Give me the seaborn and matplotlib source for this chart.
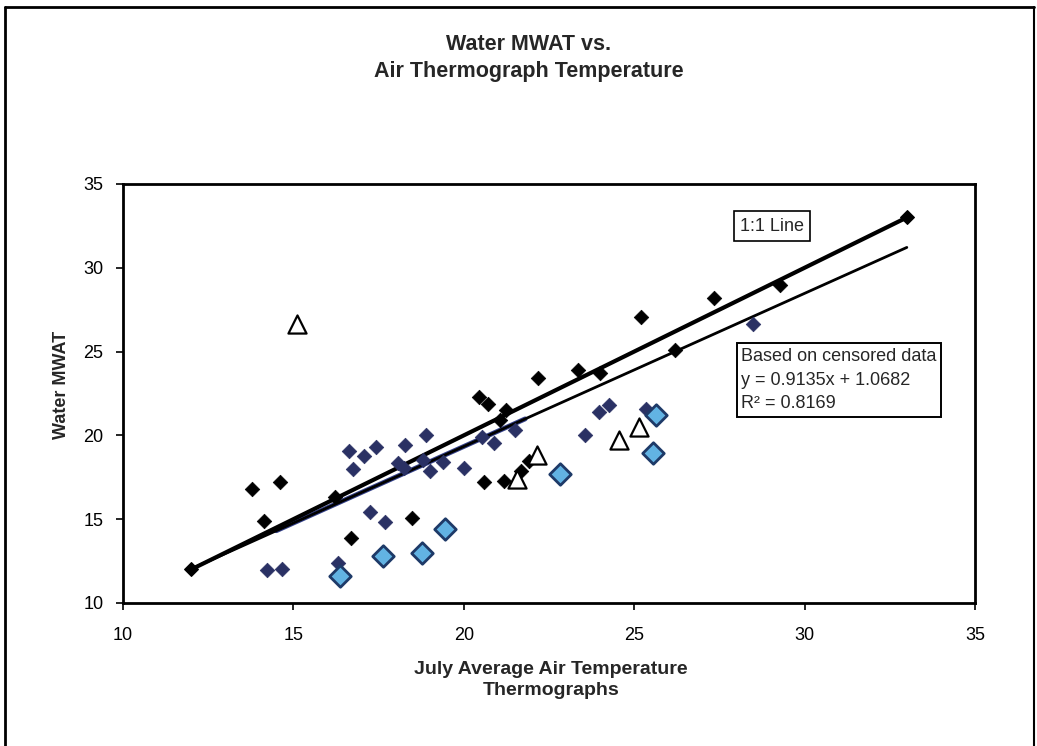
import matplotlib
matplotlib.use("Agg")
import matplotlib.pyplot as plt
import seaborn as sns
import numpy as np
import pandas as pd

# ---- data ----
black_x = [13.79, 14.61, 14.14, 16.22, 16.68, 18.49, 20.45, 20.70, 20.60, 21.05,
           21.25, 21.18, 22.18, 21.68, 21.92, 23.36, 24.01, 25.19, 26.21, 27.35, 29.29]
black_y = [16.82, 17.20, 14.92, 16.35, 13.87, 15.10, 22.30, 21.90, 17.22, 20.89,
           21.50, 17.30, 23.43, 17.88, 18.50, 23.89, 23.73, 27.06, 25.08, 28.21, 28.95]

navy_x = [14.22, 14.68, 16.64, 16.76, 17.08, 17.42, 17.25, 17.69, 16.32, 18.08,
          18.27, 18.25, 18.88, 18.81, 19.00, 19.38, 20.00, 20.53, 20.88, 21.51,
          23.57, 23.97, 24.27, 25.35, 28.50]
navy_y = [11.94, 12.04, 19.07, 17.98, 18.77, 19.32, 15.45, 14.86, 12.38, 18.37,
          19.42, 18.03, 20.04, 18.53, 17.86, 18.43, 18.08, 19.92, 19.52, 20.32,
          20.02, 21.40, 21.80, 21.60, 26.67]

light_x = [16.37, 17.64, 18.76, 19.45, 22.83, 25.56, 25.65]
light_y = [11.63, 12.78, 13.01, 14.40, 17.70, 18.93, 21.21]

tri_x = [15.11, 21.57, 22.15, 24.56, 25.14]
tri_y = [26.67, 17.38, 18.83, 19.72, 20.51]

one_x = [12, 33]
one_y = [12, 33]

slope, intercept = 0.9135, 1.0682
reg_x = [12, 33]

title_text = "Water MWAT vs.\nAir Thermograph Temperature"
xlabel_text = "July Average Air Temperature\nThermographs"
ylabel_text = "Water MWAT"
ticks = [10, 15, 20, 25, 30, 35]

# ---- style ----
sns.set_style("white")
plt.rcParams['font.family'] = ['Liberation Sans', 'DejaVu Sans']

fig = plt.figure(figsize=(10.37, 7.46), dpi=100)
ax = fig.add_axes([0.1186, 0.1917, 0.8216, 0.5617])

reg_df = pd.DataFrame({"x": reg_x, "y": [slope * v + intercept for v in reg_x]})
navy_seg = pd.DataFrame({"x": [14.5, 21.8], "y": [slope * v + intercept for v in [14.5, 21.8]]})
one_df = pd.DataFrame({"x": one_x, "y": one_y})

sns.lineplot(data=navy_seg, x="x", y="y", color="#34418a", lw=3.5, ax=ax, zorder=2)
sns.lineplot(data=reg_df, x="x", y="y", color="black", lw=2.0, ax=ax, zorder=3)
sns.lineplot(data=one_df, x="x", y="y", color="black", lw=3.0, ax=ax, zorder=3,
             marker="D", markersize=7, markeredgecolor="black")

sns.scatterplot(x=navy_x, y=navy_y, marker="D", s=55, color="#2a3164",
                edgecolor="#2a3164", linewidth=0.5, ax=ax, zorder=4)
sns.scatterplot(x=black_x, y=black_y, marker="D", s=55, color="black",
                edgecolor="black", linewidth=0.5, ax=ax, zorder=5)
sns.scatterplot(x=light_x, y=light_y, marker="D", s=120, color="#62b3e3",
                edgecolor="#1e3a68", linewidth=2.0, ax=ax, zorder=5)
sns.scatterplot(x=tri_x, y=tri_y, marker="^", s=170, color="white",
                edgecolor="black", linewidth=1.6, ax=ax, zorder=6)

ax.set_xlim(10, 35)
ax.set_ylim(10, 35)
ax.set_xticks(ticks)
ax.set_yticks(ticks)
ax.set_xticklabels([str(t) for t in ticks], fontsize=13)
ax.set_yticklabels([str(t) for t in ticks], fontsize=13)
ax.tick_params(axis="both", direction="out", length=5, width=1.2, colors="black",
               bottom=True, left=True)
ax.tick_params(axis="x", pad=12)
ax.tick_params(axis="y", pad=9)
for sp in ax.spines.values():
    sp.set_visible(True)
    sp.set_color("black")
    sp.set_linewidth(2.0)

ax.set_xlabel(xlabel_text, fontsize=14, fontweight="bold", linespacing=1.35)
ax.xaxis.set_label_coords(0.502, -0.138)
ax.set_ylabel(ylabel_text, fontsize=13, fontweight="bold")
ax.yaxis.set_label_coords(-0.062, 0.52)

fig.text(0.510, 0.922, title_text, ha="center", va="center", fontsize=15.5,
         fontweight="bold", linespacing=1.4)

fig.text(0.7445, 0.697, "1:1 Line", ha="center", va="center",
         fontsize=13, bbox=dict(boxstyle="square,pad=0.35", fc="white", ec="black", lw=1.2))
fig.text(0.7146, 0.4906, "Based on censored data\ny = 0.9135x + 1.0682\nR² = 0.8169",
         ha="left", va="center", fontsize=13, linespacing=1.5,
         bbox=dict(boxstyle="square,pad=0.25", fc="white", ec="black", lw=1.4))

# figure border (left, top, right)
fig.add_artist(plt.Line2D([0.005, 0.005], [0.0, 0.99], color="black", lw=2.0,
                          transform=fig.transFigure))
fig.add_artist(plt.Line2D([0.005, 0.997], [0.99, 0.99], color="black", lw=2.0,
                          transform=fig.transFigure))
fig.add_artist(plt.Line2D([0.997, 0.997], [0.0, 0.99], color="black", lw=1.5,
                          transform=fig.transFigure))

fig.savefig("out.png", dpi=100, facecolor="white")
